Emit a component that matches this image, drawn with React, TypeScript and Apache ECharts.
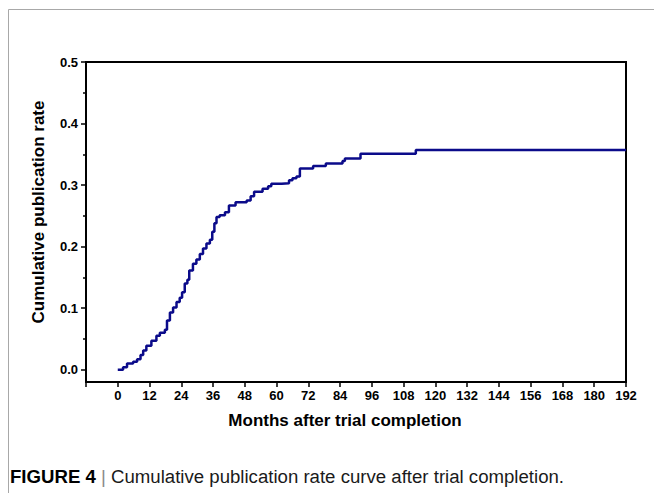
import React, { useEffect, useRef } from "react";
import * as echarts from "echarts";

const months = [0, 2, 3.5, 5.8, 7.3, 8.6, 9.6, 10.8, 12.7, 14.6, 15.9, 17.8, 18.6, 19.7, 20.9, 22.2, 23.4, 24.3, 25.3, 26.3, 27, 28.4, 29.7, 31, 32.2, 33.5, 34.8, 35.7, 36.5, 37.3, 38.5, 40.5, 42, 44.5, 48.7, 50.2, 51.5, 54.7, 56.8, 58, 61.9, 64.7, 66, 67.5, 68.8, 73.8, 78.6, 84.9, 85.8, 91.7, 112.6, 192];
const rates = [0, 0.004, 0.010, 0.013, 0.017, 0.024, 0.031, 0.039, 0.047, 0.055, 0.060, 0.065, 0.080, 0.093, 0.101, 0.110, 0.117, 0.126, 0.140, 0.146, 0.161, 0.172, 0.179, 0.188, 0.197, 0.205, 0.211, 0.224, 0.238, 0.248, 0.251, 0.256, 0.267, 0.272, 0.275, 0.282, 0.289, 0.294, 0.298, 0.302, 0.303, 0.308, 0.311, 0.314, 0.327, 0.331, 0.335, 0.339, 0.343, 0.351, 0.357, 0.357];
const yMajorTicks = [0, 0.1, 0.2, 0.3, 0.4, 0.5];
const yMinorTicks = [0.05, 0.15, 0.25, 0.35, 0.45];
const xAxisTitle = "Months after trial completion";
const yAxisTitle = "Cumulative publication rate";
const captionLabel = "FIGURE 4";
const captionText = "Cumulative publication rate curve after trial completion.";

const FONT = "Liberation Sans, Arial, sans-serif";

export default function App() {
  const ref = useRef<HTMLDivElement>(null);
  useEffect(() => {
    document.body.style.margin = "0";
    const chart = echarts.init(ref.current!, null, { renderer: "svg" });
    chart.setOption({
      animation: false,
      backgroundColor: "#fff",
      grid: {
        left: 86,
        top: 62,
        right: 28,
        bottom: 111,
        show: true,
        borderColor: "#000",
        borderWidth: 2,
        backgroundColor: "transparent",
      },
      xAxis: {
        type: "value",
        min: -12,
        max: 192,
        interval: 12,
        axisLine: { onZero: false, lineStyle: { color: "#000", width: 2 } },
        axisTick: { inside: false, length: 5, lineStyle: { color: "#000", width: 1.5 } },
        axisLabel: {
          formatter: (v: number) => (v < 0 ? "" : String(v)),
          color: "#000",
          fontWeight: "bold",
          fontSize: 13,
          fontFamily: FONT,
          margin: 7,
        },
        splitLine: { show: false },
      },
      yAxis: [
        {
          type: "value",
          min: -0.02,
          max: 0.5,
          axisLine: { show: true, onZero: false, lineStyle: { color: "#000", width: 2 } },
          axisTick: { show: true, inside: false, length: 5, customValues: yMajorTicks, lineStyle: { color: "#000", width: 1.5 } },
          axisLabel: {
            customValues: yMajorTicks,
            formatter: (v: number) => v.toFixed(1),
            color: "#000",
            fontWeight: "bold",
            fontSize: 13,
            fontFamily: FONT,
            margin: 8,
          },
          splitLine: { show: false },
        },
        {
          type: "value",
          min: -0.02,
          max: 0.5,
          position: "left",
          offset: 0,
          axisLine: { show: false, onZero: false },
          axisTick: { show: true, inside: false, length: 3, customValues: yMinorTicks, lineStyle: { color: "#000", width: 1.5 } },
          axisLabel: { show: false },
          splitLine: { show: false },
        },
      ],
      series: [
        {
          type: "line",
          step: "end",
          showSymbol: false,
          yAxisIndex: 0,
          data: months.map((m, i) => [m, rates[i]]),
          lineStyle: { color: "#0b0b8a", width: 2.5 },
        },
      ],
      graphic: [
        { type: "line", shape: { x1: 8.5, y1: 9.5, x2: 654, y2: 9.5 }, style: { stroke: "#a8a8a8", lineWidth: 1 } },
        { type: "line", shape: { x1: 8.5, y1: 9.5, x2: 8.5, y2: 493 }, style: { stroke: "#a8a8a8", lineWidth: 1 } },
        {
          type: "text",
          x: 345,
          y: 420,
          style: { text: xAxisTitle, font: `bold 17px ${FONT}`, fill: "#000", align: "center", verticalAlign: "middle" },
        },
        {
          type: "text",
          x: 38,
          y: 212,
          rotation: Math.PI / 2,
          style: { text: yAxisTitle, font: `bold 17px ${FONT}`, fill: "#000", align: "center", verticalAlign: "middle" },
        },
        {
          type: "text",
          x: 10,
          y: 476,
          scaleX: 0.98,
          style: {
            text: `{b|${captionLabel}} {s||} ${captionText}`,
            font: `19px ${FONT}`,
            fill: "#1a1a1a",
            verticalAlign: "middle",
            rich: {
              b: { fontWeight: "bold", fontSize: 19, fontFamily: FONT, fill: "#000" },
              s: { fontSize: 19, fontFamily: FONT, fill: "#888" },
            },
          },
        },
      ],
    });
    return () => chart.dispose();
  }, []);
  return <div ref={ref} style={{ width: 654, height: 493 }} />;
}
